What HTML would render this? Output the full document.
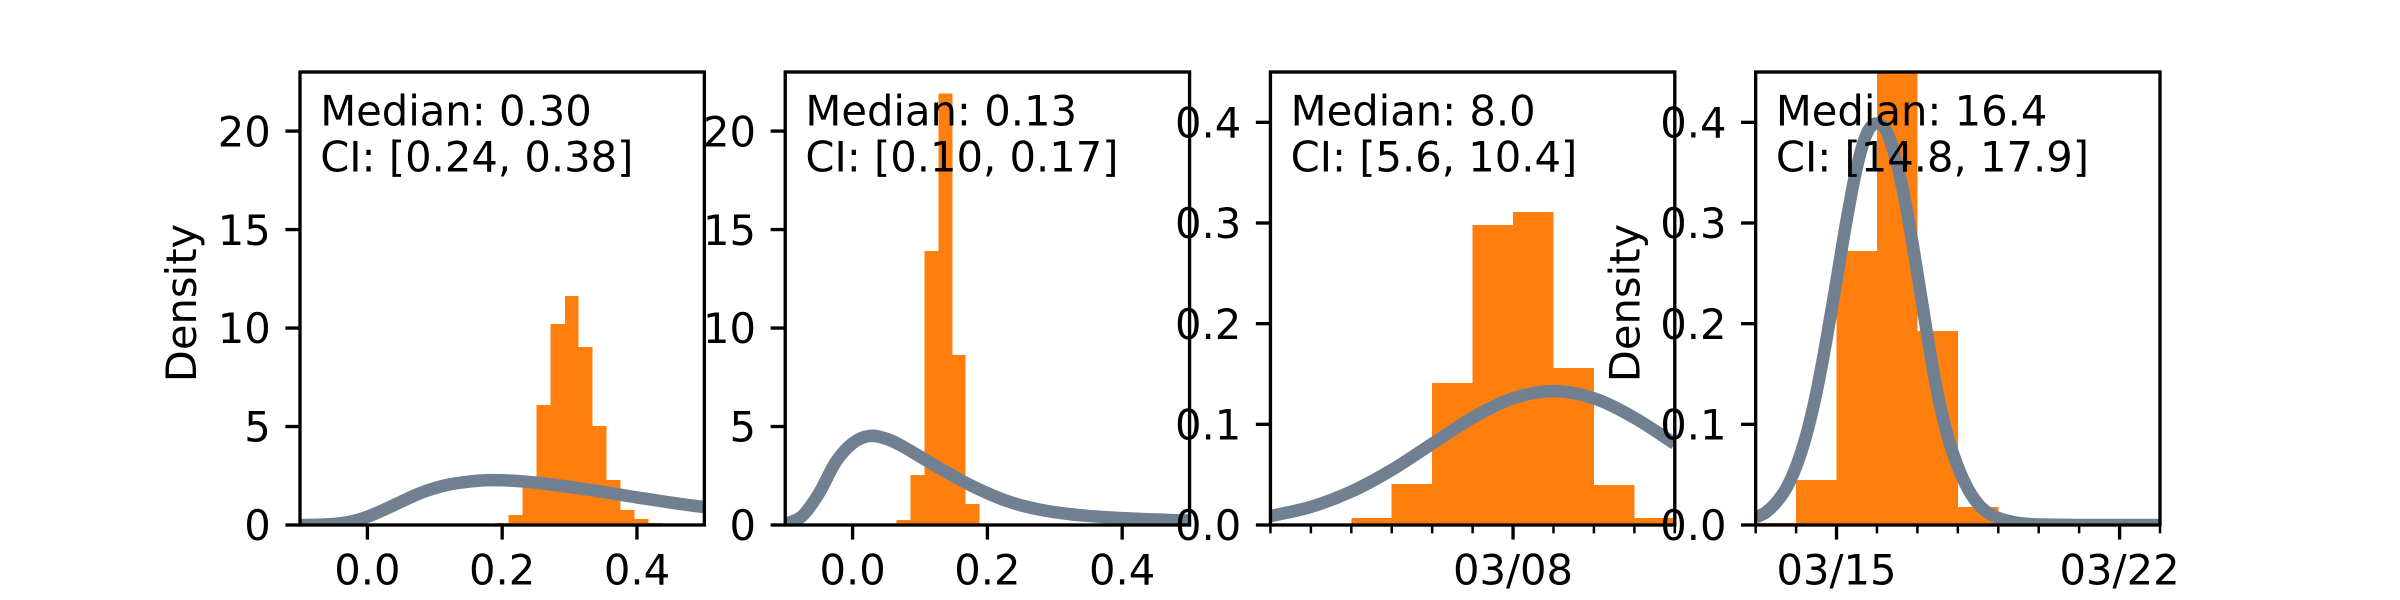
<!DOCTYPE html>
<html lang="en">
<head>
<meta charset="utf-8">
<title>Parameter posterior and prior densities</title>
<style>
  html, body { margin: 0; padding: 0; background: #ffffff; }
  body { width: 2400px; height: 600px; overflow: hidden; }
  svg { display: block; }
  text { font-family: "DejaVu Sans", "Liberation Sans", sans-serif; font-size: 41.67px; fill: #000000; }
</style>
</head>
<body>
<svg id="figure" xmlns="http://www.w3.org/2000/svg" width="2400" height="600" viewBox="0 0 2400 600"></svg>
<script>
// ---- Panel 1 data ----
const panel1Edges = [0.189, 0.2095, 0.2305, 0.251, 0.272, 0.293, 0.3134, 0.3344, 0.3549, 0.3759, 0.3963, 0.4173, 0.4383];
const panel1Heights = [0.1, 0.5, 2.1, 6.09, 10.2, 11.62, 9.03, 5.03, 2.28, 0.76, 0.3, 0.1];
const panel1CurveX = [-0.1, -0.075, -0.05, -0.025, 0, 0.025, 0.05, 0.075, 0.1, 0.125, 0.15, 0.175, 0.2, 0.225, 0.25, 0.275, 0.3, 0.325, 0.35, 0.375, 0.4, 0.425, 0.45, 0.475, 0.5];
const panel1CurveY = [0, 0.01, 0.05, 0.17, 0.42, 0.78, 1.18, 1.57, 1.87, 2.08, 2.2, 2.27, 2.27, 2.23, 2.15, 2.05, 1.93, 1.81, 1.68, 1.54, 1.4, 1.27, 1.14, 1.02, 0.91];
const panel1XTicks = [0, 0.2, 0.4];
const panel1XLabels = ["0.0", "0.2", "0.4"];
const panel1YTicks = [0, 5, 10, 15, 20];
const panel1YLabels = ["0", "5", "10", "15", "20"];
const panel1Note = ["Median: 0.30", "CI: [0.24, 0.38]"];

// ---- Panel 2 data ----
const panel2Edges = [0.0652, 0.0857, 0.1067, 0.1277, 0.1482, 0.1675, 0.1885];
const panel2Heights = [0.25, 2.54, 13.9, 21.9, 8.63, 1.07];
const panel2CurveX = [-0.1, -0.075, -0.05, -0.025, 0, 0.025, 0.05, 0.075, 0.1, 0.125, 0.15, 0.175, 0.2, 0.225, 0.25, 0.275, 0.3, 0.325, 0.35, 0.375, 0.4, 0.425, 0.45, 0.475, 0.5];
const panel2CurveY = [0.05, 0.45, 1.6, 3.2, 4.15, 4.52, 4.38, 3.98, 3.47, 2.96, 2.48, 2.02, 1.62, 1.27, 1.0, 0.8, 0.65, 0.54, 0.46, 0.4, 0.35, 0.31, 0.28, 0.25, 0.23];
const panel2XTicks = [0, 0.2, 0.4];
const panel2XLabels = ["0.0", "0.2", "0.4"];
const panel2YTicks = [0, 5, 10, 15, 20];
const panel2YLabels = ["0", "5", "10", "15", "20"];
const panel2Note = ["Median: 0.13", "CI: [0.10, 0.17]"];

// ---- Panel 3 data (x values are days of March) ----
const panel3Edges = [4, 5, 6, 7, 8, 9, 10, 11, 12];
const panel3Heights = [0.007, 0.0407, 0.141, 0.298, 0.311, 0.156, 0.0397, 0.007];
const panel3CurveX = [2, 3, 4, 5, 6, 7, 8, 9, 10, 11, 12];
const panel3CurveY = [0.0088, 0.018, 0.0332, 0.0547, 0.0807, 0.1065, 0.1258, 0.133, 0.1258, 0.1065, 0.0807];
const panel3XTicks = [8];
const panel3XLabels = ["03/08"];
const panel3MinorTicks = [2, 3, 4, 5, 6, 7, 9, 10, 11, 12];
const panel3YTicks = [0, 0.1, 0.2, 0.3, 0.4];
const panel3YLabels = ["0.0", "0.1", "0.2", "0.3", "0.4"];
const panel3Note = ["Median: 8.0", "CI: [5.6, 10.4]"];

// ---- Panel 4 data (x values are days of March) ----
const panel4Edges = [13, 14, 15, 16, 17, 18, 19];
const panel4Heights = [0.002, 0.0447, 0.272, 0.47, 0.1926, 0.018];
const panel4CurveX = [13, 13.25, 13.5, 13.75, 14, 14.25, 14.5, 14.75, 15, 15.25, 15.5, 15.75, 16, 16.25, 16.5, 16.75, 17, 17.25, 17.5, 17.75, 18, 18.25, 18.5, 18.75, 19, 19.25, 19.5, 19.75, 20, 21, 23];
const panel4CurveY = [0.0075, 0.0125, 0.022, 0.036, 0.058, 0.089, 0.131, 0.184, 0.243, 0.303, 0.355, 0.389, 0.399, 0.39, 0.358, 0.31, 0.25, 0.187, 0.13, 0.088, 0.058, 0.036, 0.021, 0.012, 0.007, 0.004, 0.002, 0.001, 0.0005, 0, 0];
const panel4XTicks = [15, 22];
const panel4XLabels = ["03/15", "03/22"];
const panel4MinorTicks = [13, 14, 16, 17, 18, 19, 20, 21, 23];
const panel4YTicks = [0, 0.1, 0.2, 0.3, 0.4];
const panel4YLabels = ["0.0", "0.1", "0.2", "0.3", "0.4"];
const panel4Note = ["Median: 16.4", "CI: [14.8, 17.9]"];

const yAxisTitle = "Density";

const SVG_NS = "http://www.w3.org/2000/svg";
const figure = document.getElementById("figure");

function make(tag, parent, attrs) {
  const node = document.createElementNS(SVG_NS, tag);
  for (const key in attrs) node.setAttribute(key, attrs[key]);
  parent.appendChild(node);
  return node;
}

function smoothPath(points) {
  let d = "M" + points[0][0].toFixed(2) + "," + points[0][1].toFixed(2);
  for (let i = 0; i < points.length - 1; i++) {
    const p0 = points[Math.max(i - 1, 0)];
    const p1 = points[i];
    const p2 = points[i + 1];
    const p3 = points[Math.min(i + 2, points.length - 1)];
    const scale = (p2[0] - p1[0]) / 3;
    const m1 = (p2[1] - p0[1]) / (p2[0] - p0[0]);
    const m2 = (p3[1] - p1[1]) / (p3[0] - p1[0]);
    d += "C" + (p1[0] + scale).toFixed(2) + "," + (p1[1] + m1 * scale).toFixed(2) +
         " " + (p2[0] - scale).toFixed(2) + "," + (p2[1] - m2 * scale).toFixed(2) +
         " " + p2[0].toFixed(2) + "," + p2[1].toFixed(2);
  }
  return d;
}

const AX_TOP = 72;
const AX_BOTTOM = 525;
const AX_WIDTH = 404.35;
const AX_STEP = 485.22;
const AX_LEFT0 = 300;
const FRAME_W = 3.33;
const TITLE_Y = 303;

function drawPanel(index, cfg) {
  const left = AX_LEFT0 + AX_STEP * index;
  const x = v => left + (v - cfg.xlim[0]) / (cfg.xlim[1] - cfg.xlim[0]) * AX_WIDTH;
  const y = v => AX_BOTTOM - (v - cfg.ylim[0]) / (cfg.ylim[1] - cfg.ylim[0]) * (AX_BOTTOM - AX_TOP);

  const panel = make("g", figure, {});
  
  

  const clipId = "clip-panel-" + (index + 1);
  const defs = make("defs", panel, {});
  const clip = make("clipPath", defs, { id: clipId });
  make("rect", clip, { x: left, y: AX_TOP, width: AX_WIDTH, height: AX_BOTTOM - AX_TOP });

  const bars = make("g", panel, { "clip-path": "url(#" + clipId + ")", "shape-rendering": "crispEdges" });
  
  
  cfg.heights.forEach((h, i) => {
    const bar = make("rect", bars, {
      x: x(cfg.edges[i]),
      y: y(h),
      width: x(cfg.edges[i + 1]) - x(cfg.edges[i]),
      height: y(0) - y(h),
      fill: "#ff7f0e"
    });
    
    
  });

  const curvePoints = cfg.curveX.map((v, i) => [x(v), y(cfg.curveY[i])]);
  const curve = make("path", panel, {
    d: smoothPath(curvePoints),
    fill: "none",
    stroke: "#708090",
    "stroke-width": 12.5,
    "stroke-linejoin": "round",
    "clip-path": "url(#" + clipId + ")"
  });
  
  

  const frame = make("rect", panel, {
    x: left, y: AX_TOP, width: AX_WIDTH, height: AX_BOTTOM - AX_TOP,
    fill: "none", stroke: "#000000", "stroke-width": FRAME_W, "stroke-linejoin": "miter"
  });
  
  

  (cfg.minorTicks || []).forEach(v => {
    const tick = make("line", panel, {
      x1: x(v), x2: x(v), y1: AX_BOTTOM, y2: AX_BOTTOM + 8.33,
      stroke: "#000000", "stroke-width": 2.5
    });
    
    
  });

  cfg.xTicks.forEach((v, i) => {
    const tick = make("line", panel, {
      x1: x(v), x2: x(v), y1: AX_BOTTOM, y2: AX_BOTTOM + 14.58,
      stroke: "#000000", "stroke-width": FRAME_W
    });
    
    
    const label = make("text", panel, { x: x(v), y: 584.5, "text-anchor": "middle" });
    label.textContent = cfg.xLabels[i];
    
    
  });

  cfg.yTicks.forEach((v, i) => {
    const tick = make("line", panel, {
      x1: left - 14.58, x2: left, y1: y(v), y2: y(v),
      stroke: "#000000", "stroke-width": FRAME_W
    });
    
    
    const label = make("text", panel, { x: left - 29.2, y: y(v) + 15.2, "text-anchor": "end" });
    label.textContent = cfg.yLabels[i];
    
    
  });

  if (cfg.titleX) {
    const title = make("text", panel, {
      x: cfg.titleX, y: TITLE_Y, "text-anchor": "middle",
      transform: "rotate(-90 " + cfg.titleX + " " + TITLE_Y + ")"
    });
    title.textContent = yAxisTitle;
    
    
  }

  cfg.note.forEach((line, i) => {
    const note = make("text", panel, { x: left + 20.2, y: 125.5 + i * 46 });
    note.textContent = line;
    
    
  });
}

drawPanel(0, {
  xlim: [-0.1, 0.5], ylim: [0, 23],
  edges: panel1Edges, heights: panel1Heights, curveX: panel1CurveX, curveY: panel1CurveY,
  xTicks: panel1XTicks, xLabels: panel1XLabels,
  yTicks: panel1YTicks, yLabels: panel1YLabels, note: panel1Note, titleX: 196
});
drawPanel(1, {
  xlim: [-0.1, 0.5], ylim: [0, 23],
  edges: panel2Edges, heights: panel2Heights, curveX: panel2CurveX, curveY: panel2CurveY,
  xTicks: panel2XTicks, xLabels: panel2XLabels,
  yTicks: panel2YTicks, yLabels: panel2YLabels, note: panel2Note
});
drawPanel(2, {
  xlim: [2, 12], ylim: [0, 0.45],
  edges: panel3Edges, heights: panel3Heights, curveX: panel3CurveX, curveY: panel3CurveY,
  xTicks: panel3XTicks, xLabels: panel3XLabels, minorTicks: panel3MinorTicks,
  yTicks: panel3YTicks, yLabels: panel3YLabels, note: panel3Note
});
drawPanel(3, {
  xlim: [13, 23], ylim: [0, 0.45],
  edges: panel4Edges, heights: panel4Heights, curveX: panel4CurveX, curveY: panel4CurveY,
  xTicks: panel4XTicks, xLabels: panel4XLabels, minorTicks: panel4MinorTicks,
  yTicks: panel4YTicks, yLabels: panel4YLabels, note: panel4Note, titleX: 1639.5
});
</script>
</body>
</html>
